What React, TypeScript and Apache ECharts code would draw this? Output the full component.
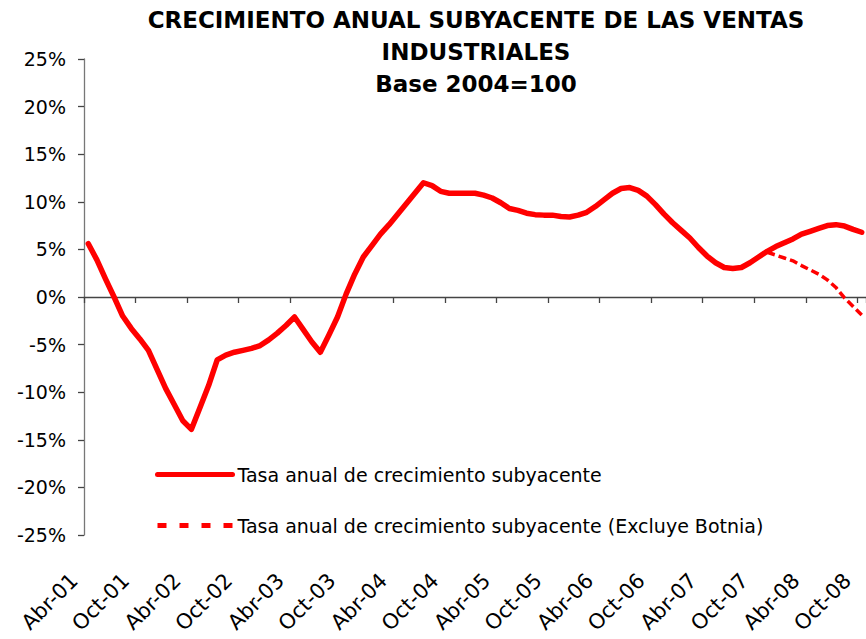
import React, { useEffect, useRef } from "react";
import * as echarts from "echarts";

const categories = [
  "Abr-01","May-01","Jun-01","Jul-01","Ago-01","Sep-01","Oct-01","Nov-01","Dic-01","Ene-02","Feb-02","Mar-02",
  "Abr-02","May-02","Jun-02","Jul-02","Ago-02","Sep-02","Oct-02","Nov-02","Dic-02","Ene-03","Feb-03","Mar-03",
  "Abr-03","May-03","Jun-03","Jul-03","Ago-03","Sep-03","Oct-03","Nov-03","Dic-03","Ene-04","Feb-04","Mar-04",
  "Abr-04","May-04","Jun-04","Jul-04","Ago-04","Sep-04","Oct-04","Nov-04","Dic-04","Ene-05","Feb-05","Mar-05",
  "Abr-05","May-05","Jun-05","Jul-05","Ago-05","Sep-05","Oct-05","Nov-05","Dic-05","Ene-06","Feb-06","Mar-06",
  "Abr-06","May-06","Jun-06","Jul-06","Ago-06","Sep-06","Oct-06","Nov-06","Dic-06","Ene-07","Feb-07","Mar-07",
  "Abr-07","May-07","Jun-07","Jul-07","Ago-07","Sep-07","Oct-07","Nov-07","Dic-07","Ene-08","Feb-08","Mar-08",
  "Abr-08","May-08","Jun-08","Jul-08","Ago-08","Sep-08","Oct-08",
];

const tasaSubyacente = [
  5.6, 3.9, 1.9, 0.0, -2.0, -3.3, -4.4, -5.6, -7.6, -9.6, -11.3, -13.0,
  -13.9, -11.6, -9.3, -6.6, -6.1, -5.8, -5.6, -5.4, -5.1, -4.5, -3.8, -3.0,
  -2.1, -3.4, -4.7, -5.8, -4.0, -2.1, 0.3, 2.4, 4.2, 5.4, 6.6, 7.6,
  8.7, 9.8, 10.9, 12.0, 11.7, 11.1, 10.9, 10.9, 10.9, 10.9, 10.7, 10.4,
  9.9, 9.3, 9.1, 8.8, 8.65, 8.6, 8.6, 8.45, 8.4, 8.6, 8.9, 9.5,
  10.2, 10.9, 11.4, 11.5, 11.2, 10.6, 9.7, 8.7, 7.8, 7.0, 6.2, 5.2,
  4.3, 3.6, 3.1, 3.0, 3.1, 3.6, 4.2, 4.8, 5.3, 5.7, 6.1, 6.6,
  6.9, 7.2, 7.5, 7.6, 7.45, 7.1, 6.8,
];

const tasaSinBotnia: (number | null)[] = [
  null, null, null, null, null, null, null, null, null, null, null, null,
  null, null, null, null, null, null, null, null, null, null, null, null,
  null, null, null, null, null, null, null, null, null, null, null, null,
  null, null, null, null, null, null, null, null, null, null, null, null,
  null, null, null, null, null, null, null, null, null, null, null, null,
  null, null, null, null, null, null, null, null, null, null, null, null,
  null, null, null, null, null, null, null, 4.7, 4.4, 4.1, 3.8, 3.3,
  2.85, 2.4, 1.8, 1.0, -0.1, -1.0, -1.9,
];

const yTicks = { min: -25, max: 25, interval: 5 };
const titleLines = ["CRECIMIENTO ANUAL SUBYACENTE DE LAS VENTAS", "INDUSTRIALES", "Base 2004=100"];
const seriesNames = [
  "Tasa anual de crecimiento subyacente",
  "Tasa anual de crecimiento subyacente (Excluye Botnia)",
];

const FONT = "DejaVu Sans";

export default function App() {
  const ref = useRef<HTMLDivElement>(null);
  useEffect(() => {
    if (!ref.current) return;
    const chart = echarts.init(ref.current, null, { renderer: "svg" });
    chart.setOption({
      animation: false,
      backgroundColor: "#ffffff",
      title: {
        text: titleLines.join("\n"),
        left: 471,
        top: -1,
        textAlign: "center",
        textStyle: {
          fontFamily: FONT,
          fontSize: 23,
          fontWeight: "bold",
          color: "#000",
          lineHeight: 32,
        },
      },
      legend: {
        orient: "vertical",
        left: 155,
        top: 465,
        padding: 0,
        itemWidth: 75,
        itemHeight: 14,
        itemGap: 32,
        textStyle: { fontFamily: FONT, fontSize: 19, color: "#000" },
        data: [
          {
            name: seriesNames[0],
            itemStyle: { opacity: 0 },
            lineStyle: { width: 5, type: "solid", color: "#ff0000" },
          },
          {
            name: seriesNames[1],
            itemStyle: { opacity: 0 },
            lineStyle: { width: 5, type: [9, 13], color: "#ff0000" },
          },
        ],
      },
      grid: { left: 84, top: 59, bottom: 104, right: -6, containLabel: false },
      xAxis: [
        {
          type: "category",
          data: categories,
          boundaryGap: true,
          position: "bottom",
          axisLine: { show: true, onZero: true, lineStyle: { color: "#444", width: 1.3 } },
          axisTick: { show: true, interval: 5, length: 6, inside: false, lineStyle: { color: "#444", width: 1.3 } },
          axisLabel: { show: false },
          splitLine: { show: false },
        },
        {
          type: "category",
          data: categories,
          boundaryGap: true,
          position: "bottom",
          axisLine: { show: false, onZero: false },
          axisTick: { show: false },
          axisLabel: {
            show: true,
            interval: 5,
            rotate: 45,
            margin: 28,
            padding: [0, 20, 0, 0],
            fontFamily: FONT,
            fontSize: 21,
            color: "#000",
          },
          splitLine: { show: false },
        },
      ],
      yAxis: {
        type: "value",
        min: yTicks.min,
        max: yTicks.max,
        interval: yTicks.interval,
        axisLine: { show: true, lineStyle: { color: "#777", width: 1.3 } },
        axisTick: { show: true, length: 6, inside: false, lineStyle: { color: "#444", width: 1.3 } },
        axisLabel: {
          formatter: (v: number) => `${v}%`,
          margin: 18,
          fontFamily: FONT,
          fontSize: 19,
          color: "#000",
        },
        splitLine: { show: false },
      },
      series: [
        {
          name: seriesNames[0],
          type: "line",
          xAxisIndex: 0,
          data: tasaSubyacente,
          symbol: "none",
          smooth: false,
          lineStyle: { color: "#ff0000", width: 5.5, type: "solid", join: "round", cap: "round" },
          itemStyle: { color: "#ff0000" },
          z: 3,
        },
        {
          name: seriesNames[1],
          type: "line",
          xAxisIndex: 0,
          data: tasaSinBotnia,
          symbol: "none",
          smooth: false,
          connectNulls: false,
          lineStyle: { color: "#ff0000", width: 3.5, type: [8, 4] },
          itemStyle: { color: "#ff0000" },
          z: 2,
        },
      ],
    });
    return () => chart.dispose();
  }, []);
  return (
    <div
      ref={ref}
      style={{ position: "fixed", left: 0, top: 0, width: 866, height: 639, background: "#fff" }}
    />
  );
}
